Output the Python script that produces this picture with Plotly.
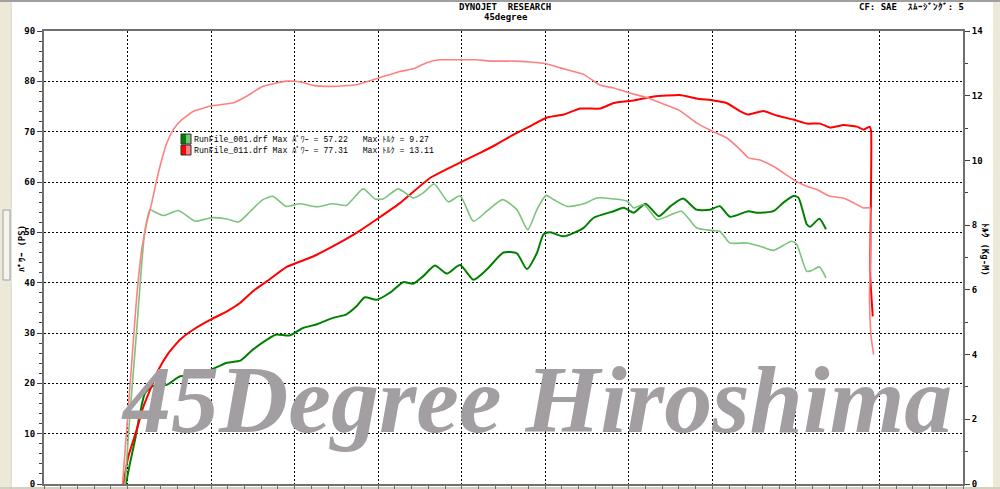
import plotly.graph_objects as go

# ---- data (x = grid divisions, power in PS, torque in kg-m)
run011_pwr_x = [0.95, 1.01, 1.11, 1.19, 1.27, 1.37, 1.49, 1.63, 1.79, 2.00, 2.19, 2.35, 2.50, 2.67,
                2.90, 3.22, 3.50, 3.74, 4.01, 4.26, 4.62, 5.01, 5.22, 5.42, 5.62, 5.82, 6.02, 6.22,
                6.42, 6.66, 6.82, 7.06, 7.30, 7.61, 7.81, 8.01, 8.17, 8.33, 8.43, 8.61, 8.77, 8.97,
                9.13, 9.29, 9.41, 9.57, 9.73, 9.81, 9.88, 9.90, 9.89, 9.92]
run011_pwr = [0, 5.5, 10.8, 15.4, 18.7, 22.7, 26.0, 28.7, 30.7, 32.7, 34.3, 36.0, 38.3, 40.3,
              43.1, 45.2, 47.6, 49.9, 52.9, 55.8, 60.8, 64.1, 65.8, 67.5, 69.4, 71.1, 72.8, 73.4,
              74.6, 74.6, 75.7, 76.2, 77.0, 77.3, 76.6, 76.2, 75.7, 74.1, 73.4, 74.1, 73.2, 72.4,
              71.6, 71.6, 70.8, 71.3, 71.0, 70.4, 71.0, 70.1, 41.3, 33.3]

run011_trq_x = [0.94, 0.99, 1.05, 1.11, 1.17, 1.23, 1.29, 1.35, 1.41, 1.47, 1.55, 1.65, 1.79, 2.00,
                2.27, 2.43, 2.62, 2.90, 3.06, 3.22, 3.46, 3.74, 4.01, 4.26, 4.42, 4.58, 4.74, 5.01,
                5.18, 5.34, 5.62, 5.82, 6.01, 6.18, 6.46, 6.66, 6.82, 7.00, 7.22, 7.46, 7.61, 7.81,
                8.00, 8.17, 8.33, 8.43, 8.57, 8.73, 9.00, 9.13, 9.25, 9.41, 9.57, 9.69, 9.81, 9.89,
                9.88, 9.90, 9.93]
run011_trq = [0, 1.68, 3.74, 5.80, 7.24, 8.07, 8.69, 9.41, 10.03, 10.54, 10.96, 11.26, 11.52, 11.68,
              11.78, 11.99, 12.29, 12.45, 12.43, 12.32, 12.29, 12.34, 12.55, 12.75, 12.83, 13.02, 13.11, 13.11,
              13.11, 13.07, 13.07, 13.04, 12.99, 12.86, 12.66, 12.32, 12.24, 12.09, 11.94, 11.70, 11.54, 11.16,
              10.90, 10.70, 10.34, 10.08, 10.01, 9.82, 9.36, 9.20, 9.10, 8.89, 8.84, 8.69, 8.53, 8.53,
              5.80, 4.56, 4.00]

run001_pwr_x = [0.98, 1.03, 1.09, 1.15, 1.21, 1.31, 1.47, 1.63, 1.83, 2.00, 2.19, 2.35, 2.50, 2.67,
                2.78, 2.94, 3.10, 3.26, 3.46, 3.62, 3.74, 3.84, 3.98, 4.14, 4.30, 4.42, 4.54, 4.68,
                4.82, 4.98, 5.14, 5.30, 5.50, 5.66, 5.78, 5.90, 5.98, 6.06, 6.22, 6.46, 6.58, 6.82,
                6.94, 7.06, 7.20, 7.36, 7.50, 7.65, 7.81, 7.97, 8.09, 8.21, 8.43, 8.53, 8.73, 8.85,
                8.97, 9.03, 9.13, 9.17, 9.28, 9.36]
run001_pwr = [0, 4.2, 8.8, 14.1, 18.1, 19.5, 19.7, 21.4, 21.4, 22.7, 24.1, 24.5, 26.7, 28.7,
              29.7, 29.5, 31.0, 31.7, 33.0, 33.7, 35.3, 37.1, 36.6, 38.0, 40.1, 39.8, 41.3, 43.4,
              41.8, 43.5, 40.6, 42.6, 46.0, 45.8, 42.7, 45.9, 49.6, 50.0, 49.2, 50.9, 52.9, 54.2,
              54.9, 53.9, 55.7, 53.2, 55.2, 56.7, 54.5, 54.5, 55.2, 53.1, 54.2, 53.9, 54.2, 55.9,
              57.2, 56.9, 51.6, 51.1, 52.7, 50.6]

run001_trq_x = [0.97, 1.03, 1.11, 1.17, 1.21, 1.27, 1.31, 1.43, 1.61, 1.81, 2.00, 2.19, 2.33, 2.47,
                2.62, 2.74, 2.90, 3.06, 3.26, 3.46, 3.62, 3.82, 3.96, 4.06, 4.24, 4.42, 4.54, 4.67,
                4.84, 4.98, 5.14, 5.30, 5.49, 5.66, 5.79, 5.90, 6.01, 6.10, 6.26, 6.46, 6.62, 6.82,
                6.98, 7.06, 7.18, 7.34, 7.46, 7.63, 7.81, 8.01, 8.09, 8.21, 8.41, 8.57, 8.73, 8.95,
                9.01, 9.13, 9.19, 9.28, 9.36]
run001_trq = [0, 2.20, 4.77, 6.83, 7.86, 8.48, 8.43, 8.30, 8.45, 8.12, 8.23, 8.19, 8.10, 8.43,
              8.79, 8.89, 8.58, 8.66, 8.57, 8.66, 8.61, 9.12, 8.81, 8.81, 9.12, 8.84, 9.00, 9.27,
              8.72, 8.91, 8.12, 8.43, 8.79, 8.48, 7.86, 8.48, 8.92, 8.79, 8.58, 8.66, 8.84, 8.81,
              8.74, 8.53, 8.64, 8.17, 8.27, 8.43, 7.92, 7.83, 7.81, 7.45, 7.45, 7.35, 7.22, 7.50,
              7.40, 6.57, 6.60, 6.71, 6.37]

legend_rows = [
    "RunFile_001.drf Max ﾊﾟﾜｰ = 57.22   Max ﾄﾙｸ = 9.27",
    "RunFile_011.drf Max ﾊﾟﾜｰ = 77.31   Max ﾄﾙｸ = 13.11",
]

RED = "#ff0000"
RED_LT = "#ff8080"
GRN = "#008000"
GRN_LT = "#7cc47c"
BEIGE = "#ece9d8"

W, H = 1000, 489
ML, MR, MT, MB = 44, 37, 31, 5
PW, PH = W - ML - MR, H - MT - MB


def px(x):
    # pixel -> paper x
    return (x - ML) / PW


def py(y):
    # pixel -> paper y
    return (H - MB - y) / PH


def label(text, x, y, font, **kw):
    d = dict(text=text, x=px(x), y=py(y), xref="paper", yref="paper", showarrow=False,
             xanchor="center", yanchor="middle", font=font)
    d.update(kw)
    return d


fig = go.Figure()

fig.add_trace(go.Scatter(x=run001_trq_x, y=run001_trq, yaxis="y2", mode="lines",
                         line=dict(color=GRN_LT, width=1.6, shape="spline", smoothing=0.6)))
fig.add_trace(go.Scatter(x=run011_trq_x, y=run011_trq, yaxis="y2", mode="lines",
                         line=dict(color=RED_LT, width=1.6, shape="spline", smoothing=0.4)))
fig.add_trace(go.Scatter(x=run001_pwr_x, y=run001_pwr, mode="lines",
                         line=dict(color=GRN, width=2, shape="spline", smoothing=0.6)))
fig.add_trace(go.Scatter(x=run011_pwr_x, y=run011_pwr, mode="lines",
                         line=dict(color=RED, width=2, shape="spline", smoothing=0.4)))

tick_font = dict(family="DejaVu Sans Mono", size=9, color="#000000", weight="bold")
small = dict(family="Liberation Mono, Noto Sans CJK JP", size=8.2, color="#000000")

shapes = [
    # window chrome
    dict(type="rect", xref="paper", yref="paper", x0=px(0), x1=px(10), y0=py(H), y1=py(0),
         fillcolor=BEIGE, line_width=0, layer="below"),
    dict(type="line", xref="paper", yref="paper", x0=px(11), x1=px(11), y0=py(H), y1=py(0),
         line=dict(color="#c8c4b0", width=1)),
    dict(type="rect", xref="paper", yref="paper", x0=px(3), x1=px(10), y0=py(280), y1=py(210),
         fillcolor="#f4f3ee", line=dict(color="#a0a0a0", width=1)),
    dict(type="rect", xref="paper", yref="paper", x0=px(993), x1=px(W), y0=py(H), y1=py(0),
         fillcolor=BEIGE, line_width=0, layer="below"),
    dict(type="rect", xref="paper", yref="paper", x0=px(0), x1=px(W), y0=py(H), y1=py(487),
         fillcolor="#d4d0c0", line_width=0, layer="below"),
    dict(type="line", xref="paper", yref="paper", x0=px(0), x1=px(W), y0=py(1), y1=py(1),
         line=dict(color="#a0a0a0", width=2)),
]

# legend swatches: dark half / light half
for i, (dark, light) in enumerate([(GRN, GRN_LT), (RED, RED_LT)]):
    top = 134 + i * 11
    shapes.append(dict(type="rect", xref="paper", yref="paper", x0=px(181), x1=px(186),
                       y0=py(top + 10), y1=py(top), fillcolor=dark, line_width=0))
    shapes.append(dict(type="rect", xref="paper", yref="paper", x0=px(186), x1=px(191),
                       y0=py(top + 10), y1=py(top), fillcolor=light, line_width=0))
    shapes.append(dict(type="rect", xref="paper", yref="paper", x0=px(181), x1=px(191),
                       y0=py(top + 10), y1=py(top), line=dict(color="#303030", width=1)))

annotations = [
    label("DYNOJET  RESEARCH", 505, 7, tick_font),
    label("45degree", 506, 17, tick_font),
    label("CF: SAE  ｽﾑｰｼﾞﾝｸﾞ: 5", 857, 7, tick_font, xanchor="left"),
    label("ﾊﾟﾜｰ (PS)", 22, 249, tick_font, textangle=-90),
    label("ﾄﾙｸ (Kg-M)", 985, 250, tick_font, textangle=90),
    label("45Degree Hiroshima", 536, 399,
          dict(family="Liberation Serif", size=96, color="#a29ea2",
               weight="bold", style="italic")),
]
for i, row in enumerate(legend_rows):
    annotations.append(label(row, 192, 139 + i * 11, small, xanchor="left"))

axis_line = dict(showline=True, linecolor="#707070", linewidth=2)

fig.update_layout(
    width=W, height=H,
    margin=dict(l=ML, r=MR, t=MT, b=MB),
    paper_bgcolor="#ffffff", plot_bgcolor="#ffffff",
    showlegend=False,
    xaxis=dict(range=[0, 11], dtick=1, showticklabels=False, showgrid=True,
               gridcolor="#000000", gridwidth=1, griddash="2px,2px", zeroline=False,
               ticks="outside", ticklen=4, tickcolor="#707070", mirror=True,
               minor=dict(dtick=0.2, ticks="outside", ticklen=4, tickcolor="#707070"),
               automargin=False, **axis_line),
    yaxis=dict(range=[0, 90], dtick=10, showgrid=True, gridcolor="#000000", gridwidth=1,
               griddash="2px,2px", zeroline=False, ticks="outside", ticklen=5,
               tickcolor="#404040", tickfont=tick_font, ticklabeloverflow="allow",
               minor=dict(dtick=2, ticks="outside", ticklen=3, tickcolor="#404040"),
               automargin=False, **axis_line),
    yaxis2=dict(range=[0, 14], dtick=2, overlaying="y", side="right", showgrid=False,
                zeroline=False, ticks="outside", ticklen=5, tickcolor="#404040",
                tickfont=tick_font, ticklabeloverflow="allow",
                minor=dict(dtick=1, ticks="outside", ticklen=3, tickcolor="#404040"),
                automargin=False, **axis_line),
    shapes=shapes,
    annotations=annotations,
)

# page body has an 8px default margin; drop it so the chart sits at the window origin
fig.write_html("out.html", config={"displayModeBar": False},
               post_script="document.body.style.margin='0';")
